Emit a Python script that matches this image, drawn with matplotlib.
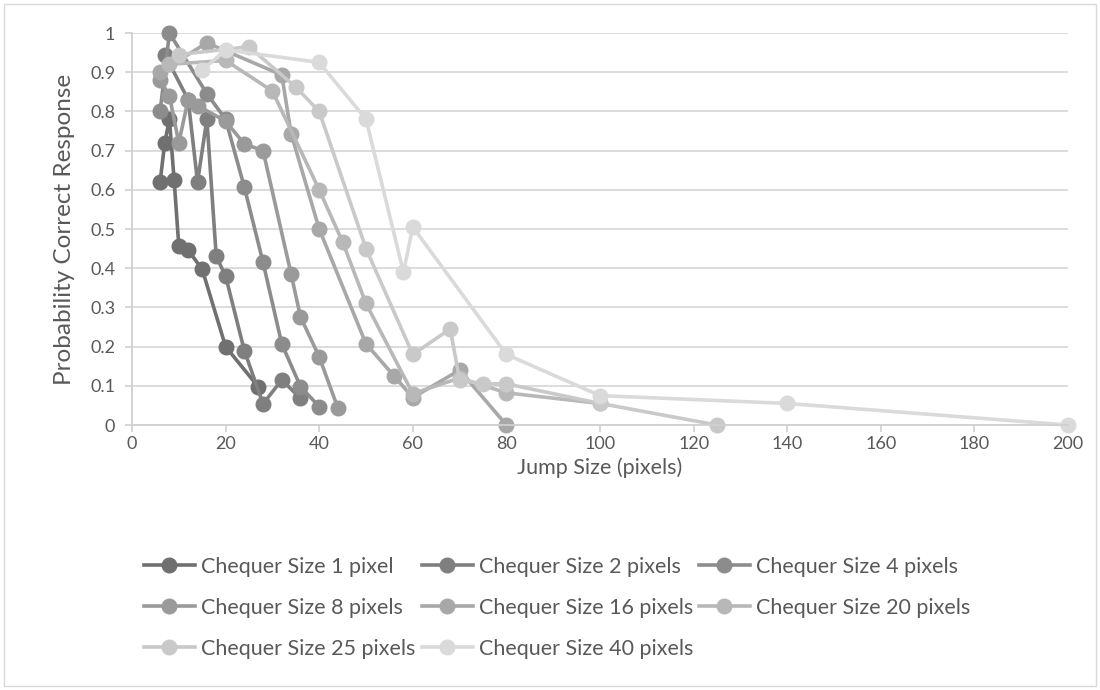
import matplotlib
matplotlib.use("Agg")
import matplotlib.pyplot as plt
from matplotlib.ticker import MultipleLocator

plt.rcParams['font.family'] = ['Lato', 'DejaVu Sans']

# Jump size (pixels) and probability of a correct response, one pair per chequer size
jump_1 = [6, 7, 8, 9, 10, 12, 15, 20, 27]
prob_1 = [0.62, 0.72, 0.78, 0.625, 0.457, 0.446, 0.397, 0.20, 0.097]

jump_2 = [7, 12, 14, 16, 18, 20, 24, 28, 32, 36]
prob_2 = [0.945, 0.83, 0.62, 0.78, 0.43, 0.38, 0.19, 0.054, 0.115, 0.068]

jump_4 = [6, 8, 16, 20, 24, 28, 32, 36, 40]
prob_4 = [0.80, 1.0, 0.845, 0.78, 0.607, 0.415, 0.207, 0.098, 0.047]

jump_8 = [6, 8, 10, 12, 14, 20, 24, 28, 34, 36, 40, 44]
prob_8 = [0.88, 0.84, 0.72, 0.83, 0.815, 0.775, 0.717, 0.70, 0.385, 0.276, 0.174, 0.043]

jump_16 = [6, 16, 32, 34, 40, 50, 56, 60, 70, 80]
prob_16 = [0.90, 0.975, 0.893, 0.743, 0.50, 0.207, 0.125, 0.07, 0.14, 0.0]

jump_20 = [8, 20, 30, 40, 45, 50, 60, 70, 80, 100]
prob_20 = [0.92, 0.93, 0.852, 0.60, 0.467, 0.31, 0.08, 0.12, 0.082, 0.055]

jump_25 = [10, 25, 35, 40, 50, 60, 68, 70, 75, 80, 100, 125]
prob_25 = [0.945, 0.965, 0.862, 0.80, 0.45, 0.18, 0.245, 0.115, 0.105, 0.105, 0.055, 0.0]

jump_40 = [15, 20, 40, 50, 58, 60, 80, 100, 140, 200]
prob_40 = [0.905, 0.957, 0.925, 0.78, 0.39, 0.505, 0.18, 0.075, 0.055, 0.0]

labels = ["Chequer Size 1 pixel", "Chequer Size 2 pixels", "Chequer Size 4 pixels",
          "Chequer Size 8 pixels", "Chequer Size 16 pixels", "Chequer Size 20 pixels",
          "Chequer Size 25 pixels", "Chequer Size 40 pixels"]
series_x = [jump_1, jump_2, jump_4, jump_8, jump_16, jump_20, jump_25, jump_40]
series_y = [prob_1, prob_2, prob_4, prob_8, prob_16, prob_20, prob_25, prob_40]
colors = ["#707070", "#7f7f7f", "#8c8c8c", "#9a9a9a", "#a8a8a8", "#b8b8b8", "#c9c9c9", "#dadada"]

W, H = 1100, 690
fig = plt.figure(figsize=(W / 100, H / 100), dpi=100)
ax = fig.add_axes([132 / W, 1 - 425 / H, (1068 - 132) / W, (425 - 33) / H])

handles = []
for xs, ys, c, lab in zip(series_x, series_y, colors, labels):
    h, = ax.plot(xs, ys, color=c, lw=2.6, marker="o", ms=10.5,
                 markerfacecolor=c, markeredgecolor=c, label=lab, clip_on=False)
    handles.append(h)

ax.set_xlim(0, 200)
ax.set_ylim(0, 1)
ax.xaxis.set_major_locator(MultipleLocator(20))
ax.set_yticks([i / 10 for i in range(11)])
ax.set_yticklabels(["0"] + [f"{i/10:g}" for i in range(1, 10)] + ["1"])
ax.grid(axis="y", color="#d9d9d9", lw=1.3)
ax.set_axisbelow(True)
for s in ("top", "right"):
    ax.spines[s].set_visible(False)
for s in ("left", "bottom"):
    ax.spines[s].set_color("#d0d0d0")
    ax.spines[s].set_linewidth(1.3)
ax.tick_params(axis="both", colors="#d0d0d0", labelcolor="#595959", labelsize=13,
               length=5, width=1.2)
ax.tick_params(axis="x", pad=3)
ax.tick_params(axis="y", pad=7)

ax.set_xlabel("Jump Size (pixels)", fontsize=15.5, color="#595959", labelpad=4)
ax.set_ylabel("Probability Correct Response", fontsize=17.5, color="#595959", labelpad=11)

# legend laid out row by row: three entries per row
col_x = [135, 413, 690]
for col in range(3):
    idx = list(range(col, len(handles), 3))
    fig.legend(handles=[handles[i] for i in idx], labels=[labels[i] for i in idx],
               loc="upper left", bbox_to_anchor=(col_x[col] / W, 1 - 548 / H),
               frameon=False, fontsize=15.5, handlelength=2.4, handletextpad=0.25,
               labelspacing=0.98, labelcolor="#595959", borderaxespad=0)

border = plt.Rectangle((4 / W, 4 / H), 1 - 8 / W, 1 - 8 / H, transform=fig.transFigure,
                       fill=False, edgecolor="#d9d9d9", lw=1.0)
fig.add_artist(border)

fig.savefig("out.png", dpi=100)
